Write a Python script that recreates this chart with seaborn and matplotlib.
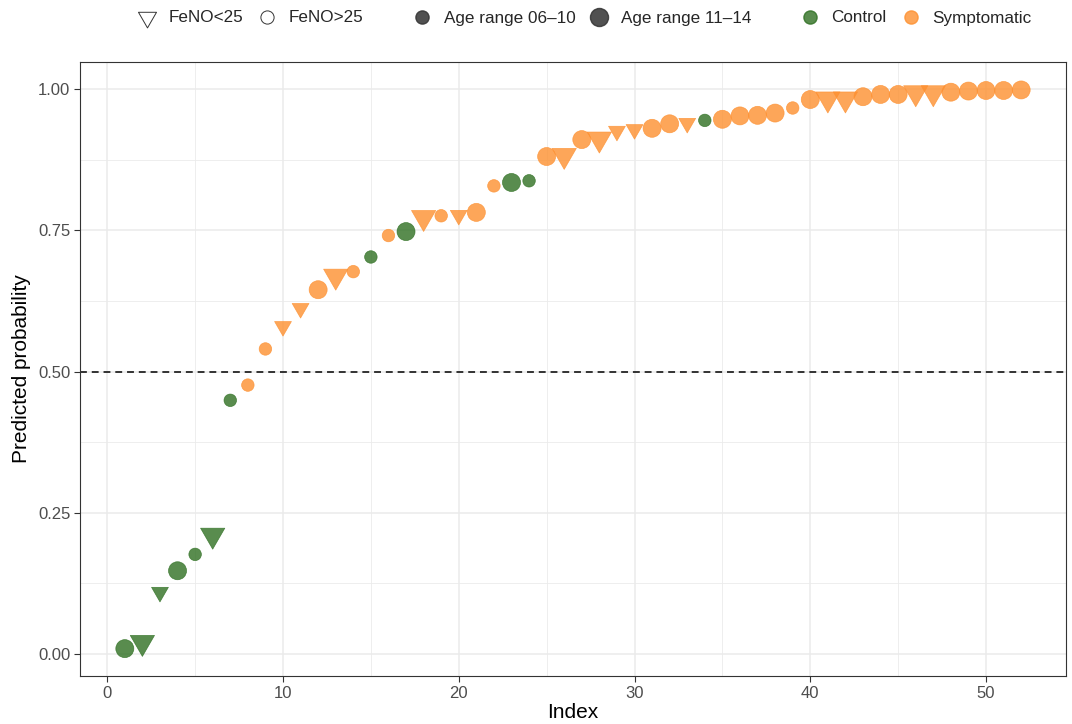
import numpy as np
import pandas as pd
import matplotlib
matplotlib.use("Agg")
import matplotlib.pyplot as plt
from matplotlib.path import Path
from matplotlib.lines import Line2D
import seaborn as sns

# ---------------- data ----------------
index = [1, 2, 3, 4, 5, 6, 7, 8, 9, 10, 11, 12, 13, 14, 15, 16, 17, 18, 19, 20,
         21, 22, 23, 24, 25, 26, 27, 28, 29, 30, 31, 32, 33, 34, 35, 36, 37, 38,
         39, 40, 41, 42, 43, 44, 45, 46, 47, 48, 49, 50, 51, 52]
prob = [0.009, 0.020, 0.109, 0.147, 0.176, 0.210, 0.449, 0.476, 0.540, 0.580,
        0.612, 0.645, 0.669, 0.677, 0.703, 0.741, 0.748, 0.773, 0.776, 0.777,
        0.782, 0.829, 0.835, 0.838, 0.881, 0.883, 0.911, 0.912, 0.926, 0.929,
        0.931, 0.939, 0.940, 0.945, 0.947, 0.953, 0.954, 0.958, 0.967, 0.982,
        0.983, 0.983, 0.987, 0.991, 0.991, 0.994, 0.994, 0.995, 0.997, 0.998,
        0.998, 0.999]
group = ["Control"] * 7 + ["Symptomatic"] * 7 + ["Control", "Symptomatic", "Control"] + \
        ["Symptomatic"] * 5 + ["Control", "Control"] + ["Symptomatic"] * 9 + \
        ["Control"] + ["Symptomatic"] * 18
tri_idx = [2, 3, 6, 10, 11, 13, 18, 20, 26, 28, 29, 30, 33, 41, 42, 46, 47]
small_idx = [3, 5, 7, 8, 9, 10, 11, 14, 15, 16, 19, 20, 22, 24, 29, 30, 33, 34, 39]
feno = ["FeNO<25" if i in tri_idx else "FeNO>25" for i in index]
age = ["Age range 06\u201310" if i in small_idx else "Age range 11\u201314" for i in index]

feno_levels = ["FeNO<25", "FeNO>25"]
age_levels = ["Age range 06\u201310", "Age range 11\u201314"]
group_levels = ["Control", "Symptomatic"]
colors = {"Control": "#2f7022", "Symptomatic": "#fd9030"}

df = pd.DataFrame({"Index": index, "prob": prob, "group": group,
                   "feno": feno, "age": age})
df["sizekey"] = df["feno"] + "|" + df["age"]

# ---------------- style ----------------
sns.set_style("white")
plt.rcParams["font.family"] = ["Liberation Sans", "DejaVu Sans"]

# downward triangle (R pch 25 geometry, centred on centroid)
tri = Path([(0, -1.555), (1.347, 0.778), (-1.347, 0.778), (0, -1.555)],
           [Path.MOVETO, Path.LINETO, Path.LINETO, Path.CLOSEPOLY])

px = 0.72  # points per pixel at dpi 100
d_large, d_small = 18 * px, 12.5 * px
sizes = {
    "FeNO>25|" + age_levels[1]: d_large ** 2,
    "FeNO>25|" + age_levels[0]: d_small ** 2,
    "FeNO<25|" + age_levels[1]: (1.555 * d_large) ** 2,
    "FeNO<25|" + age_levels[0]: (1.555 * d_small) ** 2,
}

fig = plt.figure(figsize=(10.72, 7.24), dpi=100)
ax = fig.add_axes([80 / 1072, 48 / 724, 986 / 1072, 614 / 724])

ax.set_xlim(-1.55, 54.55)
ax.set_ylim(-0.0395, 1.0485)
ax.set_xticks([0, 10, 20, 30, 40, 50])
ax.set_xticks([5, 15, 25, 35, 45], minor=True)
ax.set_yticks([0, 0.25, 0.5, 0.75, 1.0])
ax.set_yticklabels(["0.00", "0.25", "0.50", "0.75", "1.00"])
ax.set_yticks([0.125, 0.375, 0.625, 0.875], minor=True)
ax.grid(True, which="major", color="#ebebeb", lw=1.1, zorder=0)
ax.grid(True, which="minor", color="#ebebeb", lw=0.6, zorder=0)
ax.set_axisbelow(True)
for s in ax.spines.values():
    s.set_color("#333333")
    s.set_linewidth(0.8)
ax.tick_params(axis="both", which="major", length=4, width=0.8, color="#333333",
               labelsize=12, labelcolor="#4d4d4d", pad=3, bottom=True, left=True)
ax.tick_params(axis="both", which="minor", length=0)

ax.axhline(0.5, color="black", lw=1.1, ls=(0, (4.5, 3.2)), zorder=1)

sns.scatterplot(data=df, x="Index", y="prob", hue="group", palette=colors,
                hue_order=group_levels, style="feno",
                markers={"FeNO<25": tri, "FeNO>25": "o"},
                style_order=feno_levels, size="sizekey", sizes=sizes,
                alpha=0.8, edgecolor="face", linewidth=0.5, legend=False,
                ax=ax, zorder=3)

ax.set_xlabel("Index", fontsize=15, color="black", labelpad=2)
ax.set_ylabel("Predicted probability", fontsize=15, color="black", labelpad=5)

# ---------------- legends ----------------
ly = 1 - 18 / 724
common = dict(frameon=False, loc="center left", borderaxespad=0, borderpad=0,
              ncol=2, handlelength=1.2, handletextpad=0.65, columnspacing=0.8,
              fontsize=12.3)
h1 = [Line2D([], [], ls="", marker=tri, markersize=15, markerfacecolor="none",
             markeredgecolor="#333333", markeredgewidth=0.7),
      Line2D([], [], ls="", marker="o", markersize=9.5, markerfacecolor="none",
             markeredgecolor="#333333", markeredgewidth=0.7)]
leg1 = fig.legend(h1, feno_levels, bbox_to_anchor=(137 / 1072, ly), **common)
h2 = [Line2D([], [], ls="", marker="o", markersize=9.5, markerfacecolor="#333333",
             markeredgecolor="#333333", alpha=0.85),
      Line2D([], [], ls="", marker="o", markersize=13, markerfacecolor="#333333",
             markeredgecolor="#333333", alpha=0.85)]
leg2 = fig.legend(h2, age_levels, bbox_to_anchor=(412 / 1072, ly), **common)
h3 = [Line2D([], [], ls="", marker="o", markersize=9.5, markerfacecolor=colors[g],
             markeredgecolor=colors[g], alpha=0.8) for g in group_levels]
leg3 = fig.legend(h3, group_levels, bbox_to_anchor=(800 / 1072, ly), **common)

fig.savefig("out.png", dpi=100)
